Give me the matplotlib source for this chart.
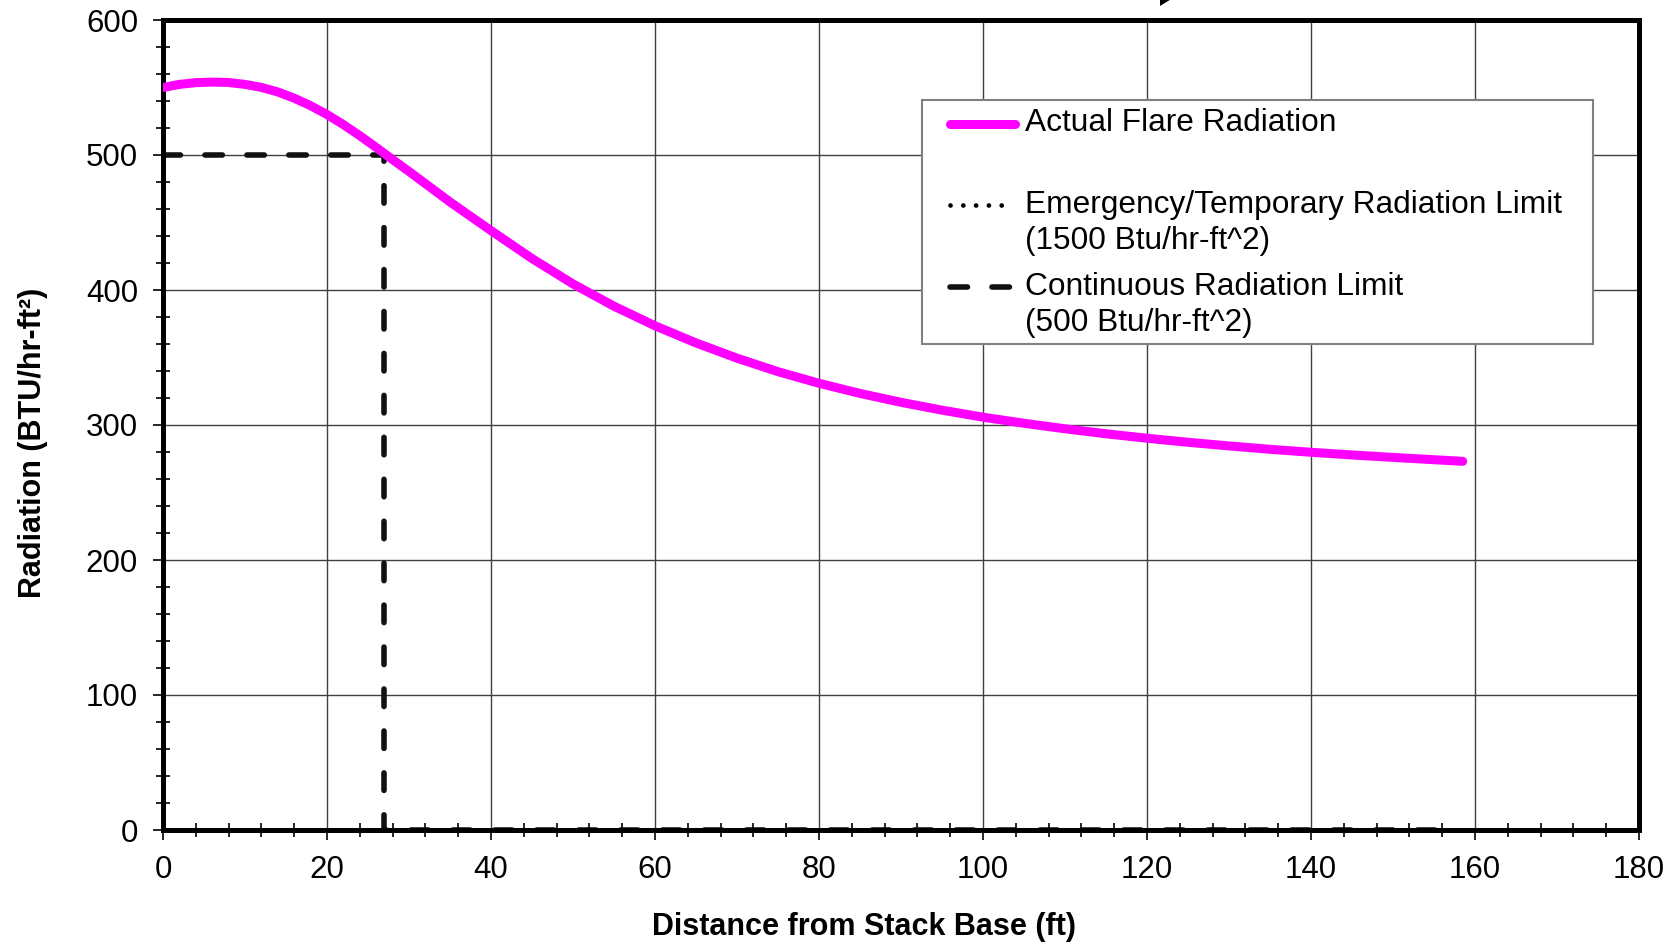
import matplotlib
matplotlib.use("Agg")
import matplotlib.pyplot as plt
from matplotlib.lines import Line2D
from matplotlib.patches import Rectangle, Polygon
from matplotlib.ticker import MultipleLocator

plt.rcParams['font.family'] = ['Liberation Sans', 'DejaVu Sans']

# ---- data ----
distance = [0, 2, 4, 6, 8, 10, 12, 14, 16, 18, 20, 22, 24, 26, 28, 30, 35, 40,
            45, 50, 55, 60, 65, 70, 75, 80, 85, 90, 95, 100, 105, 110, 115,
            120, 125, 130, 135, 140, 145, 150, 158.5]
radiation = [550, 552.3, 553.6, 554, 553.7, 552.3, 550.1, 546.7, 542.1, 536.5,
             530, 522.5, 514.3, 505.6, 496.6, 487.8, 465.2, 444, 423.3, 404.5,
             388, 373.5, 360.8, 349.5, 339.5, 330.9, 323.4, 316.8, 311, 305.8,
             301.3, 297.2, 293.5, 290.2, 287.2, 284.5, 282, 279.8, 277.8, 276,
             273.1]
limit_x = [0, 27, 27, 158]
limit_y = [500, 500, 0, 0]

x_ticks = [0, 20, 40, 60, 80, 100, 120, 140, 160, 180]
y_ticks = [0, 100, 200, 300, 400, 500, 600]

legend_labels = ["Actual Flare Radiation",
                 "Emergency/Temporary Radiation Limit",
                 "(1500 Btu/hr-ft^2)",
                 "Continuous Radiation Limit",
                 "(500 Btu/hr-ft^2)"]

W, H = 1679, 944
fig = plt.figure(figsize=(W / 100, H / 100), dpi=100)
ax = fig.add_axes([163 / W, 1 - 830 / H, (1639 - 163) / W, (830 - 20) / H])

ax.plot(limit_x, limit_y, color='#111111', lw=4, dashes=(3.15, 4.4),
        dash_capstyle='round', zorder=2)
ax.plot(distance, radiation, color='#FF00FF', lw=6.5, solid_capstyle='round',
        solid_joinstyle='round', zorder=3)

ax.set_xlim(0, 180)
ax.set_ylim(0, 600)
ax.set_xticks(x_ticks)
ax.set_yticks(y_ticks)
ax.xaxis.set_minor_locator(MultipleLocator(4))
ax.yaxis.set_minor_locator(MultipleLocator(20))
ax.grid(True, which='major', color='#404040', lw=1.0, zorder=1)
ax.set_axisbelow(True)
for s in ax.spines.values():
    s.set_linewidth(3.6)
    s.set_color('black')
    s.set_zorder(2.5)
ax.tick_params(which='major', direction='out', length=7, width=1.2, pad=11,
               labelsize=22.5, colors='black')
ax.tick_params(which='minor', direction='inout', length=10, width=1.2)

ax.set_xlabel("Distance from Stack Base (ft)", fontsize=22, fontweight='bold')
ax.set_ylabel("Radiation (BTU/hr-ft²)", fontsize=22, fontweight='bold')
ax.xaxis.set_label_coords(0.4747, -0.101)
ax.yaxis.set_label_coords(-0.078, 0.478)

# ---- legend (built manually to align handles with first text lines) ----
def fx(px):
    return px / W

def fy(py):
    return 1 - py / H

tf = fig.transFigure
fig.add_artist(Rectangle((fx(922), fy(344)), fx(1593) - fx(922), fy(100) - fy(344),
                         transform=tf, facecolor='white', edgecolor='#808080', lw=1.5,
                         zorder=5))
fig.add_artist(Line2D([fx(950), fx(1015)], [fy(124), fy(124)], transform=tf,
                      color='#FF00FF', lw=6.5, solid_capstyle='round', zorder=6))
fig.add_artist(Line2D([fx(950), fx(1012)], [fy(205), fy(205)], transform=tf,
                      color='black', lw=3.4, linestyle=(0, (0.01, 2.7)),
                      dash_capstyle='round', zorder=6))
fig.add_artist(Line2D([fx(950), fx(1012)], [fy(287), fy(287)], transform=tf,
                      color='#111111', lw=4, dashes=(3.15, 4.4),
                      dash_capstyle='round', zorder=6))
text_y = [123, 205, 241, 287, 323]
for lab, ty in zip(legend_labels, text_y):
    fig.text(fx(1025), fy(ty), lab, fontsize=22.8, va='center', ha='left',
             transform=tf, zorder=7)

# small arrow head poking in at the top
fig.add_artist(Polygon([(fx(1160), fy(-2)), (fx(1160), fy(6)), (fx(1173), fy(-2))],
                       closed=True, transform=tf, facecolor='black', edgecolor='none'))

fig.savefig("out.png", dpi=100)
